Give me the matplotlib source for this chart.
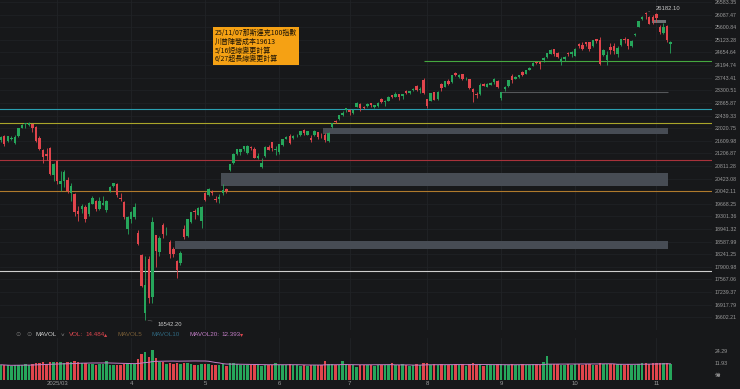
import numpy as np
import pandas as pd
import matplotlib
matplotlib.use("Agg")
import matplotlib.pyplot as plt
from matplotlib.ticker import FixedLocator, NullLocator
from matplotlib.patches import Rectangle

# NDX daily candles, 2025-02-06 .. 2025-11-07
holidays = ["2025-02-17", "2025-04-18", "2025-05-26", "2025-06-19", "2025-07-04", "2025-09-01"]
dates = pd.bdate_range("2025-02-06", "2025-11-07")
dates = dates[~dates.isin(pd.to_datetime(holidays))]

opens = [21640, 21760, 21600, 21680, 21540, 21760, 22040, 22160, 22120, 22150, 22060, 21700, 21300, 21180, 21380, 20540,
         20970, 20250, 20340, 20380, 20000, 19950, 19460, 19530, 19570, 19360, 19670, 19760, 19530, 19640, 19490, 20060, 20190, 20270, 19850, 19730, 18950,
         19230, 19270, 18830, 18230, 16700, 18100, 17100, 18760, 18310, 19060, 18830, 18570, 18380, 18060, 18000, 18950, 18750, 19140, 19470, 19350, 19170,
         19980, 19930, 20020, 19800, 19820, 19990, 20100, 20700, 20900, 21200, 21250, 21330, 21220, 21420, 21330, 21060, 20780, 21130, 21420, 21560, 21320,
         21250, 21480, 21680, 21760, 21690, 21790, 21810, 21960, 21810, 21700, 21780, 21880, 21740, 21800, 21610, 22060, 22270, 22320, 22470, 22640,
         22620, 22520, 22740, 22830, 22730, 22750, 22860, 22730, 22760, 23000, 22900, 22940, 23120, 23080, 23170, 23110, 23280, 23220, 23300, 23450, 23310, 23650,
         22990, 22940, 23230, 22990, 23510, 23420, 23620, 23600, 23920, 23770, 23860, 23690, 23680, 23350, 23180, 23160, 23510, 23430, 23490, 23580, 23640,
         23050, 23350, 23440, 23800, 23700, 23780, 23940, 23890, 24020, 24160, 24300, 24290, 24370, 24490, 24600, 24780, 24640, 24300, 24420, 24650, 24580,
         24540, 24960, 24930, 25030, 25030, 24880, 25140, 25130, 24550, 24380, 24860, 24880, 24600, 24920, 25160, 25150, 24900, 25320, 25620, 25900, 26130, 26000, 26010,
         26100, 25620, 25400, 25630, 24960]
highs = [21775, 21800, 21770, 21760, 21780, 22040, 22150, 22180, 22222, 22160, 22090, 21760, 21330, 21380, 21420, 20900,
         21010, 20640, 20680, 20480, 20280, 19990, 19600, 19650, 19640, 19720, 19910, 19770, 19870, 19900, 19790, 20200, 20300, 20290, 19990, 19740, 19300,
         19470, 19700, 18900, 18240, 18200, 18200, 19290, 18780, 18750, 19110, 18990, 18620, 18430, 18080, 18330, 19050, 19230, 19440, 19520, 19560, 19600,
         20010, 20150, 20080, 19900, 19960, 20250, 20140, 20880, 21210, 21350, 21350, 21430, 21460, 21440, 21420, 21230, 21050, 21430, 21480, 21580, 21430,
         21500, 21680, 21750, 21820, 21790, 21830, 21930, 22000, 21930, 21800, 21960, 21900, 21860, 21850, 21890, 22200, 22290, 22460, 22580, 22700,
         22660, 22650, 22880, 22850, 22760, 22860, 22870, 22800, 22880, 23050, 22950, 23100, 23130, 23240, 23180, 23170, 23300, 23280, 23380, 23470, 23420, 23720,
         23000, 23210, 23250, 23280, 23540, 23630, 23690, 23850, 23930, 23890, 23880, 23760, 23700, 23390, 23240, 23570, 23560, 23540, 23600, 23720, 23650,
         23250, 23440, 23670, 23860, 23790, 23850, 23980, 24020, 24130, 24290, 24320, 24330, 24500, 24640, 24780, 24800, 24670, 24480, 24530, 24680, 24690,
         24810, 24990, 25030, 25060, 25050, 25110, 25170, 25230, 24800, 24690, 24990, 25000, 24880, 25160, 25220, 25170, 25130, 25400, 25840, 26030, 26182.1, 26050, 26060,
         26150, 25690, 25780, 25670, 25080]
lows = [21560, 21450, 21580, 21640, 21500, 21720, 22020, 22020, 22090, 21900, 21580, 21320, 20900, 21010, 20530, 20350,
        20250, 20050, 20170, 19990, 19750, 19300, 19160, 19390, 19150, 19320, 19650, 19470, 19500, 19620, 19430, 20030, 20170, 19860, 19740, 19240, 18800,
        19110, 19230, 18500, 17360, 16542.2, 16950, 16970, 17900, 18180, 18680, 18760, 18130, 18170, 17600, 17950, 18660, 18720, 19110, 19230, 19330, 18980,
        19760, 19900, 19930, 19720, 19700, 19930, 19980, 20650, 20880, 21150, 21150, 21290, 21200, 21300, 21050, 21030, 20760, 21100, 21300, 21280, 21150,
        21190, 21450, 21660, 21510, 21660, 21730, 21770, 21800, 21790, 21580, 21770, 21680, 21690, 21560, 21560, 22040, 22180, 22280, 22420, 22570,
        22470, 22480, 22730, 22600, 22650, 22720, 22720, 22700, 22720, 22870, 22770, 22930, 23030, 23070, 22960, 23010, 23180, 23180, 23270, 23290, 23200, 23180,
        22700, 22930, 22950, 22970, 23260, 23410, 23500, 23540, 23800, 23730, 23660, 23660, 23330, 22900, 23050, 23130, 23440, 23400, 23470, 23520, 23370,
        22950, 23290, 23420, 23550, 23680, 23720, 23800, 23860, 24000, 24150, 24220, 24050, 24300, 24460, 24590, 24530, 24440, 24200, 24340, 24540, 24500,
        24520, 24820, 24730, 24900, 24720, 24860, 24990, 24200, 24520, 24200, 24580, 24580, 24500, 24900, 25000, 24780, 24870, 25280, 25600, 25860, 25900, 25720, 25720,
        25790, 25360, 25360, 25060, 24650]
closes = [21740, 21491, 21760, 21713, 21729, 22030, 22115, 22175, 22175, 22036, 21614, 21352, 21088, 21132, 20551, 20884,
          20357, 20353, 20628, 20041, 20202, 19431, 19366, 19597, 19226, 19704, 19837, 19516, 19736, 19678, 19754, 20180, 20287, 19917, 19798, 19281, 19278,
          19436, 19581, 18521, 17398, 17431, 17090, 19145, 18343, 18690, 18799, 18831, 18259, 18258, 17808, 18277, 18724, 19213, 19432, 19425, 19545, 19571,
          19790, 20102, 19985, 19792, 19867, 20063, 20061, 20868, 21196, 21330, 21335, 21427, 21447, 21367, 21074, 21112, 20915, 21414, 21324, 21364, 21341,
          21492, 21656, 21721, 21547, 21762, 21796, 21920, 21857, 21913, 21631, 21937, 21718, 21720, 21626, 21875, 22191, 22238, 22447, 22534, 22679,
          22542, 22641, 22867, 22686, 22700, 22830, 22780, 22780, 22856, 22885, 22933, 23077, 23065, 23180, 23063, 23163, 23220, 23272, 23356, 23308, 23337, 23218,
          22763, 23205, 22965, 23250, 23383, 23611, 23535, 23839, 23850, 23849, 23713, 23713, 23384, 23254, 23143, 23498, 23455, 23525, 23565, 23703, 23415,
          23231, 23414, 23658, 23652, 23762, 23839, 23849, 24003, 24092, 24276, 24275, 24239, 24454, 24626, 24762, 24580, 24504, 24404, 24504, 24612, 24680,
          24791, 24892, 24785, 24978, 24795, 25099, 25098, 24221, 24750, 24579, 24749, 24713, 24818, 25142, 25134, 24888, 25098, 25358, 25822, 26013, 26122, 25737, 25858,
          25973, 25435, 25621, 25130, 25060]
# volume in 億
volume = [10.5, 10.0, 9.8, 9.5, 10.2, 10.4, 9.9, 10.8, 10.3, 10.9, 12.6, 12.1, 12.8, 11.6, 13.2, 13.5,
          12.8, 13.6, 12.4, 13.0, 12.9, 13.8, 13.2, 12.1, 11.9, 11.5, 10.8, 10.6, 11.2, 10.9, 14.2, 10.5, 9.8, 10.6, 10.2, 11.3, 11.9,
          11.0, 11.4, 16.2, 21.8, 23.2, 18.4, 25.8, 17.2, 13.5, 12.8, 11.2, 12.0, 11.3, 11.9, 11.5, 12.3, 11.8, 11.0, 10.6, 10.4, 11.3,
          11.6, 10.9, 9.8, 10.1, 10.4, 10.8, 9.7, 12.2, 11.8, 10.9, 10.2, 10.6, 9.9, 10.3, 10.1, 10.8, 9.2, 10.5, 10.0, 10.7, 12.4,
          10.4, 10.3, 10.1, 11.0, 10.2, 9.8, 9.6, 10.0, 9.7, 10.3, 9.9, 10.1, 9.8, 14.6, 10.8, 11.0, 10.4, 10.7, 13.8, 11.1,
          10.2, 9.9, 7.9, 10.0, 9.8, 10.4, 10.1, 9.7, 10.0, 10.6, 9.9, 10.3, 11.9, 10.0, 10.5, 10.8, 10.4, 9.6, 10.3, 10.9, 10.6, 12.0,
          12.3, 10.6, 10.9, 10.4, 10.8, 10.1, 10.0, 10.7, 10.9, 10.2, 10.8, 9.6, 11.4, 11.8, 10.7, 10.9, 9.4, 10.0, 10.1, 10.6, 10.8,
          11.3, 10.4, 10.2, 10.9, 10.7, 10.3, 10.8, 10.6, 10.1, 11.0, 10.9, 10.4, 13.2, 19.6, 11.4, 11.0, 10.8, 10.5, 10.3, 10.9, 10.6,
          10.8, 11.4, 10.7, 11.2, 10.9, 10.6, 10.1, 12.4, 11.1, 11.5, 10.8, 10.9, 11.6, 10.9, 10.5, 11.2, 10.6, 10.7, 11.5, 11.8, 12.1, 11.6, 12.2,
          12.3, 12.6, 11.8, 12.0, 11.6]
vol_label = 14.484
mavol20_label = 12.393

price_ticks = [26583.35, 26087.47, 25600.84, 25123.28, 24654.64, 24194.74, 23743.41, 23300.51, 22865.87,
               22439.33, 22020.75, 21609.98, 21206.87, 20811.28, 20423.08, 20042.11, 19668.25, 19301.36,
               18941.32, 18587.99, 18241.25, 17900.98, 17567.06, 17239.37, 16917.79, 16602.21]
month_labels = ["2025/03", "4", "5", "6", "7", "8", "9", "10", "11"]

# drawn support / resistance levels
full_levels = [22657, 22190, 20996, 20057, 17797]
full_colors = ["#2a9fb0", "#aaa62a", "#a8323b", "#b07a2c", "#cfcfcf"]
green_level = 24345
gray_level = 23230
zones = [(21830, 22025), (20200, 20583), (18391, 18604)]
top_zone = (25780, 25880)
note_lines = ["25/11/07那斯達克100指數", "川普陣營成本19613", "5/16短線變更計算", "6/27超長線變更計算"]

BG = "#17181a"
UP = "#26a65b"
DN = "#e0454c"
GRID = "#212326"
LBL = "#9a9a9a"

o = np.array(opens, float); h = np.array(highs, float)
l = np.array(lows, float); c = np.array(closes, float)
v = np.array(volume, float)
n = len(dates)
idx = np.arange(n)
up = c >= o
cols = np.where(up, UP, DN)

fig = plt.figure(figsize=(7.4, 3.89), dpi=100, facecolor=BG)
W, H = 740, 389
ax = fig.add_axes([0, 1 - 330 / H, 712 / W, 330 / H], facecolor=BG)
axv = fig.add_axes([0, 1 - 380 / H, 712 / W, 42 / H], facecolor=BG, sharex=ax)

month_idx = [int(np.argmax(dates.month == m)) for m in range(3, 12)]

# main price panel
ax.set_yscale("log")
ax.set_ylim(16290, 26663)
ax.set_xlim(-0.2, 201.8)
for m in month_idx:
    ax.axvline(m, color=GRID, lw=0.6, zorder=0)
    axv.axvline(m, color=GRID, lw=0.6, zorder=0)
for t in price_ticks:
    ax.axhline(t, color=GRID, lw=0.5, zorder=0)

for lev, col in zip(full_levels, full_colors):
    ax.axhline(lev, color=col, lw=0.8, zorder=1)
ax.hlines(green_level, 120, 202, color="#45a83f", lw=0.8, zorder=1)
ax.hlines(gray_level, 142, 189.3, color="#55575a", lw=0.8, zorder=1)
for (lo, hi), x0 in zip(zones, [91.4, 62.5, 49.4]):
    ax.add_patch(Rectangle((x0, lo), 189.3 - x0, hi - lo, facecolor="#474c54", edgecolor="none", zorder=1))
ax.add_patch(Rectangle((184.8, top_zone[0]), 3.9, top_zone[1] - top_zone[0],
                       facecolor="#6f7276", edgecolor="none", zorder=1))

body_lo = np.minimum(o, c)
body_h = np.maximum(np.abs(c - o), c * 0.0006)
ax.vlines(idx, l, h, color=cols, lw=0.6, zorder=2)
ax.bar(idx, body_h, bottom=body_lo, width=0.7, color=cols, linewidth=0, zorder=3)

ax.yaxis.tick_right()
ax.yaxis.set_major_locator(FixedLocator(price_ticks))
ax.yaxis.set_minor_locator(NullLocator())
ax.set_yticklabels([f"{t:.2f}" for t in price_ticks], family="Liberation Sans")
ax.tick_params(axis="y", length=0, pad=2, labelsize=3.8, labelcolor=LBL)
ax.tick_params(axis="x", length=0, labelbottom=False)
for s in ax.spines.values():
    s.set_visible(False)

# high / low markers
i_lo = int(np.argmin(l)); i_hi = int(np.argmax(h))
ax.annotate(f"{l[i_lo]:.2f}", xy=(i_lo, l[i_lo]), xytext=(9, -3.5), textcoords="offset points",
            fontsize=4.2, color="#c8c8c8", va="center", family="Liberation Sans",
            arrowprops=dict(arrowstyle="-", color="#6a6a6a", lw=0.4))
ax.annotate(f"{h[i_hi]:.2f}", xy=(i_hi, h[i_hi]), xytext=(7, 3), textcoords="offset points",
            fontsize=4.2, color="#c8c8c8", va="center", family="Liberation Sans",
            arrowprops=dict(arrowstyle="-", color="#6a6a6a", lw=0.4))

# volume panel
vmin = -4.8
axv.set_ylim(vmin, 37.4)
axv.bar(idx, v - vmin, bottom=vmin, width=0.7, color=cols, linewidth=0, zorder=2)
ma20 = pd.Series(v).rolling(20, min_periods=1).mean()
axv.plot(idx, ma20, color="#c27ec6", lw=0.7, zorder=3)
axv.yaxis.tick_right()
axv.set_yticks([24.29, 11.93, 0])
axv.set_yticklabels(["24.29", "11.93", "億"], family=["Liberation Sans", "Noto Sans CJK TC"])
axv.tick_params(axis="y", length=0, pad=2, labelsize=3.8, labelcolor=LBL)
axv.set_xticks(month_idx)
axv.set_xticklabels(month_labels, family="Liberation Sans")
axv.tick_params(axis="x", length=0, pad=0.5, labelsize=4.3, labelcolor=LBL)
for s in axv.spines.values():
    s.set_visible(False)

# volume header
hy = 1 - 335 / H
hdr = dict(fontsize=4.5, va="center", family=["Liberation Sans", "DejaVu Sans"])
fig.text(15 / W, hy, "⊙", color="#707070", **hdr)
fig.text(26 / W, hy, "⊙", color="#707070", **hdr)
fig.text(36 / W, hy, "MAVOL", color="#d0d0d0", **hdr)
fig.text(61 / W, hy, "˅", color="#909090", **hdr)
fig.text(69 / W, hy, "VOL:", color="#d9464e", **hdr)
fig.text(85 / W, hy, f"{vol_label:.3f}", color="#d9464e", **hdr)
fig.text(104 / W, hy, "▴", color="#d9464e", **hdr)
fig.text(117 / W, hy, "MAVOL5", color="#7a5e36", **hdr)
fig.text(152 / W, hy, "MAVOL10", color="#2f6880", **hdr)
fig.text(190 / W, hy, "MAVOL20:", color="#c27ec6", **hdr)
fig.text(221 / W, hy, f"{mavol20_label:.3f}", color="#c27ec6", **hdr)
fig.text(240 / W, hy, "▾", color="#d9464e", **hdr)

# note box
fig.text(215 / W, 1 - 46 / H, "\n".join(note_lines), fontsize=5, color="#1a1206",
         family=["Noto Sans CJK TC", "DejaVu Sans"], va="center", ha="left", linespacing=1.15,
         bbox=dict(boxstyle="square,pad=0.25", facecolor="#f5a114", edgecolor="none"))

fig.savefig("out.png", dpi=100, facecolor=BG)
